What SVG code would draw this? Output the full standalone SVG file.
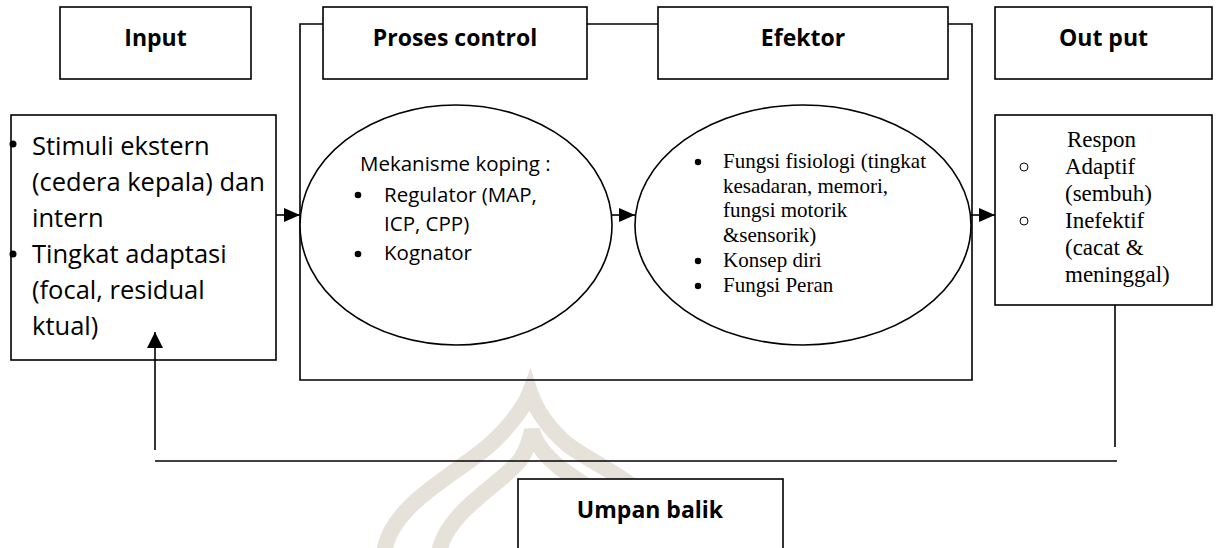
<svg xmlns="http://www.w3.org/2000/svg" width="1219" height="548" viewBox="0 0 1219 548">
<style>
.box{fill:#fff;stroke:#000;stroke-width:1.6}
.ln{fill:none;stroke:#000;stroke-width:1.6}
.hd{font-family:"Open Sans","Liberation Sans",sans-serif;font-weight:bold;font-size:23px;text-anchor:middle;fill:#000}
.sans{font-family:"Open Sans","Liberation Sans",sans-serif;fill:#000}
.serif{font-family:"Liberation Serif","DejaVu Serif",serif;fill:#000}
.wm{fill:none;stroke:#e6e2da;stroke-width:16;stroke-linecap:round}
</style>
<defs>
<marker id="ah" markerWidth="16" markerHeight="14" refX="16" refY="7" orient="auto" markerUnits="userSpaceOnUse">
<path d="M0,0 L16,7 L0,14 Z" fill="#000"/>
</marker>
<marker id="ahu" markerWidth="16" markerHeight="16" refX="16" refY="8" orient="auto" markerUnits="userSpaceOnUse">
<path d="M0,0 L16,8 L0,16 Z" fill="#000"/>
</marker>
<clipPath id="c2"><rect x="600" y="100" width="328" height="260"/></clipPath>
</defs>
<rect width="1219" height="548" fill="#fff"/>
<g id="watermark">
<path class="wm" d="M385,548 C395,500 465,470 495,440 C512,423 524,408 530,392 C536,410 548,428 568,445 C605,472 665,492 680,548"/>
<path class="wm" d="M440,548 C450,510 500,485 520,460 C527,450 530,440 532,430 C536,445 545,455 560,468 C600,495 630,515 635,548"/>
</g>
<g id="container">
<path class="ln" d="M323,24 H300 V380 H972 V24 H948"/>
<path class="ln" d="M587,24 H658"/>
</g>
<g id="input-header"><rect class="box" x="60" y="7" width="191" height="72"/><text class="hd" x="155.5" y="46">Input</text></g>
<g id="proses-header"><rect class="box" x="323" y="7" width="264" height="72"/><text class="hd" x="455" y="46">Proses control</text></g>
<g id="efektor-header"><rect class="box" x="658" y="7" width="290" height="72"/><text class="hd" x="803" y="46">Efektor</text></g>
<g id="output-header"><rect class="box" x="995" y="7" width="217" height="72"/><text class="hd" x="1103.5" y="46">Out put</text></g>
<g id="input-box">
<rect class="box" x="11" y="115" width="265" height="245"/>
<circle cx="13" cy="144" r="3.5" fill="#000"/>
<circle cx="13" cy="254" r="3.5" fill="#000"/>
<text class="sans" font-size="25.5">
<tspan x="32" y="155">Stimuli ekstern</tspan>
<tspan x="32" y="191">(cedera kepala) dan</tspan>
<tspan x="32" y="227">intern</tspan>
<tspan x="32" y="263">Tingkat adaptasi</tspan>
<tspan x="32" y="299">(focal, residual</tspan>
<tspan x="32" y="335">ktual)</tspan>
</text>
</g>
<g id="proses-ellipse">
<ellipse class="box" cx="456" cy="225" rx="156" ry="120"/>
<text class="sans" font-size="20.5"><tspan x="360" y="171">Mekanisme koping :</tspan></text>
<circle cx="358" cy="195" r="3.3" fill="#000"/>
<circle cx="358" cy="254" r="3.3" fill="#000"/>
<text class="sans" font-size="20.5">
<tspan x="384" y="202">Regulator (MAP,</tspan>
<tspan x="384" y="231">ICP, CPP)</tspan>
<tspan x="384" y="260">Kognator</tspan>
</text>
</g>
<g id="efektor-ellipse">
<ellipse class="box" cx="803" cy="225" rx="168" ry="120"/>
<circle cx="698" cy="162" r="3.2" fill="#000"/>
<circle cx="698" cy="261" r="3.2" fill="#000"/>
<circle cx="698" cy="286" r="3.2" fill="#000"/>
<text class="serif" font-size="21" clip-path="url(#c2)">
<tspan x="723" y="168">Fungsi fisiologi (tingkat</tspan>
<tspan x="723" y="193">kesadaran, memori,</tspan>
<tspan x="723" y="217">fungsi motorik</tspan>
<tspan x="723" y="242">&amp;sensorik)</tspan>
<tspan x="723" y="267">Konsep diri</tspan>
<tspan x="723" y="292">Fungsi Peran</tspan>
</text>
</g>
<g id="output-box">
<rect class="box" x="995" y="115" width="217" height="190"/>
<circle cx="1024" cy="167" r="4" fill="none" stroke="#000" stroke-width="1"/>
<circle cx="1024" cy="221" r="4" fill="none" stroke="#000" stroke-width="1"/>
<text class="serif" font-size="23">
<tspan x="1067" y="147">Respon</tspan>
<tspan x="1065" y="174">Adaptif</tspan>
<tspan x="1065" y="201">(sembuh)</tspan>
<tspan x="1065" y="228">Inefektif</tspan>
<tspan x="1065" y="255">(cacat &amp;</tspan>
<tspan x="1065" y="282">meninggal)</tspan>
</text>
</g>
<g id="umpan-balik">
<rect class="box" x="518" y="479" width="265" height="80"/>
<text class="hd" x="650" y="518">Umpan balik</text>
</g>
<g id="connectors">
<line class="ln" x1="276" y1="215" x2="300" y2="215" marker-end="url(#ah)"/>
<line class="ln" x1="612" y1="215" x2="635" y2="215" marker-end="url(#ah)"/>
<line class="ln" x1="971" y1="215" x2="995" y2="215" marker-end="url(#ah)"/>
<line class="ln" x1="1115" y1="305" x2="1115" y2="447"/>
<line class="ln" x1="155" y1="461" x2="1117" y2="461" stroke-width="2"/>
<line class="ln" x1="155" y1="450" x2="155" y2="332" stroke-width="2" marker-end="url(#ahu)"/>
</g>
</svg>
